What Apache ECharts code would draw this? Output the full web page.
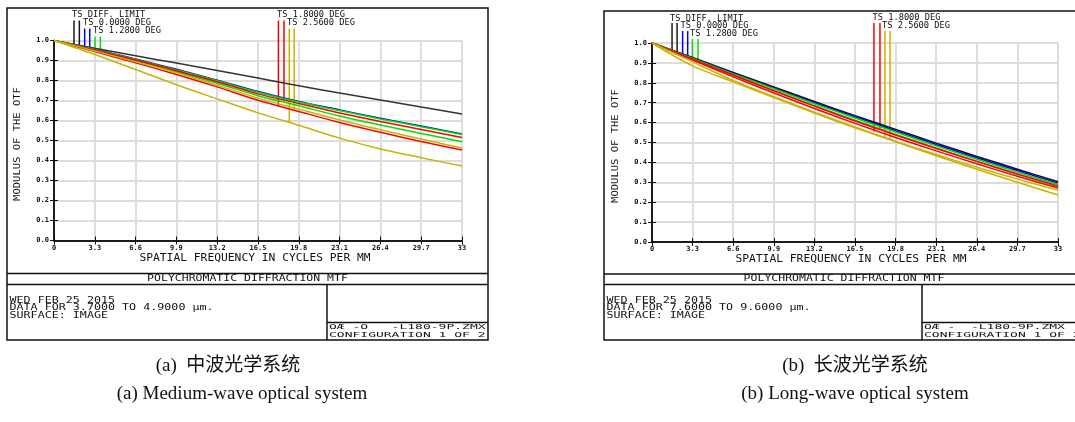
<!DOCTYPE html>
<html>
<head>
<meta charset="utf-8">
<script src="https://cdn.jsdelivr.net/npm/echarts@6/dist/echarts.min.js"></script>
<style>
html, body { margin: 0; padding: 0; background: #fff; }
#chart { width: 1075px; height: 422px; }
</style>
</head>
<body>
<div id="chart"></div>
<script>
// spatial frequency samples, cycles per mm
const freq = [0, 3.3, 6.6, 9.9, 13.2, 16.5, 19.8, 23.1, 26.4, 29.7, 33];
const freqTicks = ['0', '3.3', '6.6', '9.9', '13.2', '16.5', '19.8', '23.1', '26.4', '29.7', '33'];
const mtfTicks = ['0.0', '0.1', '0.2', '0.3', '0.4', '0.5', '0.6', '0.7', '0.8', '0.9', '1.0'];

// (a) medium wave, 3.7 - 4.9 um
const mwDiff  = [1, 0.961, 0.924, 0.887, 0.850, 0.812, 0.774, 0.737, 0.703, 0.667, 0.633];
const mw000   = [1, 0.956, 0.907, 0.856, 0.802, 0.745, 0.695, 0.653, 0.611, 0.572, 0.532];
const mw128T  = [1, 0.955, 0.905, 0.853, 0.799, 0.741, 0.692, 0.650, 0.608, 0.569, 0.530];
const mw128S  = [1, 0.950, 0.898, 0.844, 0.786, 0.724, 0.674, 0.622, 0.577, 0.535, 0.494];
const mw180T  = [1, 0.952, 0.902, 0.849, 0.794, 0.733, 0.685, 0.638, 0.595, 0.555, 0.515];
const mw180S  = [1, 0.945, 0.888, 0.830, 0.768, 0.701, 0.645, 0.590, 0.541, 0.495, 0.452];
const mw256T  = [1, 0.948, 0.893, 0.838, 0.777, 0.712, 0.657, 0.603, 0.554, 0.507, 0.463];
const mw256S  = [1, 0.930, 0.855, 0.779, 0.708, 0.638, 0.576, 0.512, 0.458, 0.414, 0.372];

// (b) long wave, 7.6 - 9.6 um
const lwDiff  = [1, 0.927, 0.852, 0.779, 0.706, 0.635, 0.566, 0.497, 0.430, 0.366, 0.303];
const lw000   = [1, 0.924, 0.848, 0.774, 0.700, 0.629, 0.559, 0.490, 0.423, 0.359, 0.296];
const lw128T  = [1, 0.922, 0.845, 0.770, 0.695, 0.623, 0.553, 0.483, 0.416, 0.351, 0.289];
const lw128S  = [1, 0.918, 0.838, 0.760, 0.685, 0.612, 0.541, 0.472, 0.405, 0.340, 0.277];
const lw180T  = [1, 0.919, 0.839, 0.760, 0.683, 0.608, 0.538, 0.470, 0.405, 0.342, 0.282];
const lw180S  = [1, 0.914, 0.830, 0.749, 0.671, 0.596, 0.525, 0.458, 0.393, 0.330, 0.271];
const lw256T  = [1, 0.905, 0.812, 0.730, 0.652, 0.578, 0.507, 0.440, 0.376, 0.316, 0.260];
const lw256S  = [1, 0.885, 0.805, 0.726, 0.648, 0.574, 0.503, 0.433, 0.366, 0.300, 0.236];

// legend key lines: frequency where drawn, MTF where they meet the curve, top level
const mwKeyX = [1.62, 2.05, 2.48, 2.89, 3.32, 3.75, 18.15, 18.6, 19.03, 19.43];
const mwKeyY = [0.981, 0.975, 0.967, 0.961, 0.955, 0.943, 0.673, 0.702, 0.588, 0.656];
const lwKeyX = [1.63, 2.04, 2.49, 2.90, 3.28, 3.74, 18.04, 18.53, 18.94, 19.35];
const lwKeyY = [0.964, 0.955, 0.942, 0.933, 0.922, 0.908, 0.555, 0.563, 0.521, 0.517];
const keyTop = [1.1, 1.1, 1.06, 1.06, 1.02, 1.02, 1.1, 1.1, 1.06, 1.06];

const fieldLabels = ['TS DIFF. LIMIT', 'TS 0.0000 DEG', 'TS 1.2800 DEG', 'TS 1.8000 DEG', 'TS 2.5600 DEG'];

const cBlack = '#1a1a1a', cBlue = '#0000ff', cGreen = '#00e000', cRed = '#ff0000', cYellow = '#c8b400';
const keyColors = [cBlack, cBlack, cBlue, cBlue, cGreen, cGreen, cRed, cRed, cYellow, cYellow];

const mono = '"DejaVu Sans Mono", monospace';

function curve(data, color, idx) {
  return {
    type: 'line',
    xAxisIndex: idx * 2,
    yAxisIndex: idx * 2,
    data: freq.map((f, i) => [f, data[i]]),
    smooth: 0.3,
    symbol: 'none',
    silent: true,
    lineStyle: { color: color, width: 1.5 }
  }
}

function keys(xs, ys, idx) {
  return {
    type: 'custom',
    xAxisIndex: idx * 2,
    yAxisIndex: idx * 2,
    clip: false,
    silent: true,
    encode: { x: 0, y: [1, 2] },
    data: xs.map((x, i) => [x, ys[i], keyTop[i], i]),
    renderItem: function (params, api) {
      const p0 = api.coord([api.value(0), api.value(1)]);
      const p1 = api.coord([api.value(0), api.value(2)]);
      return {
        type: 'line',
        shape: { x1: p0[0], y1: p0[1], x2: p1[0], y2: p1[1] },
        style: { stroke: keyColors[api.value(3)], lineWidth: 1.5 }
      }
    }
  }
}

function axesFor(idx) {
  const common = {
    axisLine: { lineStyle: { color: '#111', width: 1.5 } },
    axisTick: { inside: true, length: 4, lineStyle: { color: '#111', width: 1 } }
  };
  const x = [
    Object.assign({
      type: 'value', gridIndex: idx, min: 0, max: 33, interval: 3.3, position: 'bottom',
      axisLabel: {
        fontSize: 7, fontWeight: 'bold', fontFamily: mono, color: '#111', margin: 4,
        formatter: v => freqTicks[Math.round(v / 3.3)]
      },
      splitLine: { show: true, lineStyle: { color: '#dcdcdc', width: 2 } }
    }, common),
    Object.assign({
      type: 'value', gridIndex: idx, min: 0, max: 33, interval: 3.3, position: 'top',
      axisLabel: { show: false }, splitLine: { show: false }
    }, common)
  ];
  const y = [
    Object.assign({
      type: 'value', gridIndex: idx, min: 0, max: 1, interval: 0.1, position: 'left',
      axisLabel: {
        fontSize: 7, fontWeight: 'bold', fontFamily: mono, color: '#111', margin: 5,
        formatter: v => mtfTicks[Math.round(v * 10)]
      },
      splitLine: { show: true, lineStyle: { color: '#dcdcdc', width: 2 } }
    }, common),
    Object.assign({
      type: 'value', gridIndex: idx, min: 0, max: 1, interval: 0.1, position: 'right',
      axisLabel: { show: false }, splitLine: { show: false }
    }, common)
  ];
  return { x, y };
}

function txt(text, x, y, size, opts) {
  opts = opts || {};
  return {
    type: 'text', x: x, y: y,
    rotation: opts.rotation || 0,
    scaleY: opts.scaleY || 1,
    silent: true,
    style: {
      text: text,
      font: (opts.weight || 'normal') + ' ' + size + 'px ' + (opts.family || mono),
      fill: opts.color || '#111',
      textAlign: opts.align || 'left',
      textVerticalAlign: 'middle',
      align: opts.align || 'left',
      verticalAlign: 'middle'
    }
  }
}

function seg(x1, y1, x2, y2) {
  return { type: 'line', silent: true, shape: { x1, y1, x2, y2 }, style: { stroke: '#111', lineWidth: 1.5 } };
}

// frame, text blocks and captions of one Zemax plot
function panel(p) {
  const els = [
    { type: 'rect', silent: true, shape: { x: p.left, y: p.top, width: p.right - p.left, height: 340 - p.top },
      style: { fill: 'none', stroke: '#111', lineWidth: 1.5 } },
    seg(p.left, p.band1, Math.min(p.right, 1075), p.band1),
    seg(p.left, p.band2, Math.min(p.right, 1075), p.band2),
    seg(p.divX, p.band2, p.divX, 340),
    seg(p.divX, 322.5, Math.min(p.right, 1075), 322.5),
    txt('MODULUS OF THE OTF', p.yNameX, p.yNameY, 10.5, { align: 'center', rotation: Math.PI / 2, scaleY: 0.8 }),
    txt('SPATIAL FREQUENCY IN CYCLES PER MM', p.xNameX, p.xNameY, 11.3, { align: 'center', scaleY: 0.85 }),
    txt('POLYCHROMATIC DIFFRACTION MTF', (p.left + p.right) / 2, 279.2, 11.5, { align: 'center', scaleY: 0.72 }),
    txt('WED FEB 25 2015', p.left + 2.5, 300.5, 11.7, { scaleY: 0.68 }),
    txt(p.dataLine, p.left + 2.5, 307.8, 11.7, { scaleY: 0.68 }),
    txt('SURFACE: IMAGE', p.left + 2.5, 315.5, 11.7, { scaleY: 0.68 }),
    txt(p.fileLine, p.divX + 2, 327.5, 13, { scaleY: 0.58 }),
    txt('CONFIGURATION 1 OF 2', p.divX + 2, 334.8, 13, { scaleY: 0.58 }),
    txt(p.capZh, p.capZhX, 366, 19, { align: 'center', family: '"Liberation Serif", "Noto Sans CJK SC"' }),
    txt(p.capEn, p.capX, 394, 19, { align: 'center', family: '"Liberation Serif", serif' })
  ];
  p.labels.forEach((l, i) => els.push(txt(fieldLabels[i], l[0], l[1], 8.7)));
  return els;
}

const a = axesFor(0), b = axesFor(1);

const option = {
  animation: false,
  backgroundColor: '#fff',
  grid: [
    { left: 54, top: 40.5, width: 408, height: 200 },
    { left: 652, top: 43, width: 406, height: 199 }
  ],
  xAxis: a.x.concat(b.x),
  yAxis: a.y.concat(b.y),
  series: [
    curve(mwDiff, '#333', 0), curve(mw000, cBlue, 0), curve(mw128T, cGreen, 0), curve(mw128S, cGreen, 0),
    curve(mw180T, cRed, 0), curve(mw180S, cRed, 0), curve(mw256T, cYellow, 0), curve(mw256S, cYellow, 0),
    keys(mwKeyX, mwKeyY, 0),
    curve(lwDiff, '#111', 1), curve(lw000, cBlue, 1), curve(lw128T, cGreen, 1), curve(lw128S, cGreen, 1),
    curve(lw180T, cRed, 1), curve(lw180S, cRed, 1), curve(lw256T, cYellow, 1), curve(lw256S, cYellow, 1),
    keys(lwKeyX, lwKeyY, 1)
  ],
  graphic: panel({
    left: 7, right: 488, top: 8, band1: 273.5, band2: 284.5, divX: 327,
    yNameX: 18, yNameY: 144, xNameX: 255, xNameY: 258.5,
    dataLine: 'DATA FOR 3.7000 TO 4.9000 \u00b5m.',
    fileLine: '\u00d5\u00c6 -\u00d5   -L180-9P.ZMX',
    capZh: '(a)  中波光学系统', capZhX: 228, capEn: '(a) Medium-wave optical system', capX: 242,
    labels: [[72, 15], [83, 23], [93, 31], [277, 15], [287, 23]]
  }).concat(panel({
    left: 604, right: 1084, top: 11, band1: 274, band2: 284.5, divX: 922,
    yNameX: 616, yNameY: 146, xNameX: 851, xNameY: 259.5,
    dataLine: 'DATA FOR 7.6000 TO 9.6000 \u00b5m.',
    fileLine: '\u00d5\u00c6 -  -L180-9P.ZMX',
    capZh: '(b)  长波光学系统', capZhX: 855, capEn: '(b) Long-wave optical system', capX: 855,
    labels: [[670, 18.5], [680.5, 25.5], [690, 34], [872.5, 18], [882, 26]]
  }))
};

const chart = echarts.init(document.getElementById('chart'), null, { renderer: 'canvas' });
chart.setOption(option);
window.addEventListener('resize', () => chart.resize());
</script>
</body>
</html>
